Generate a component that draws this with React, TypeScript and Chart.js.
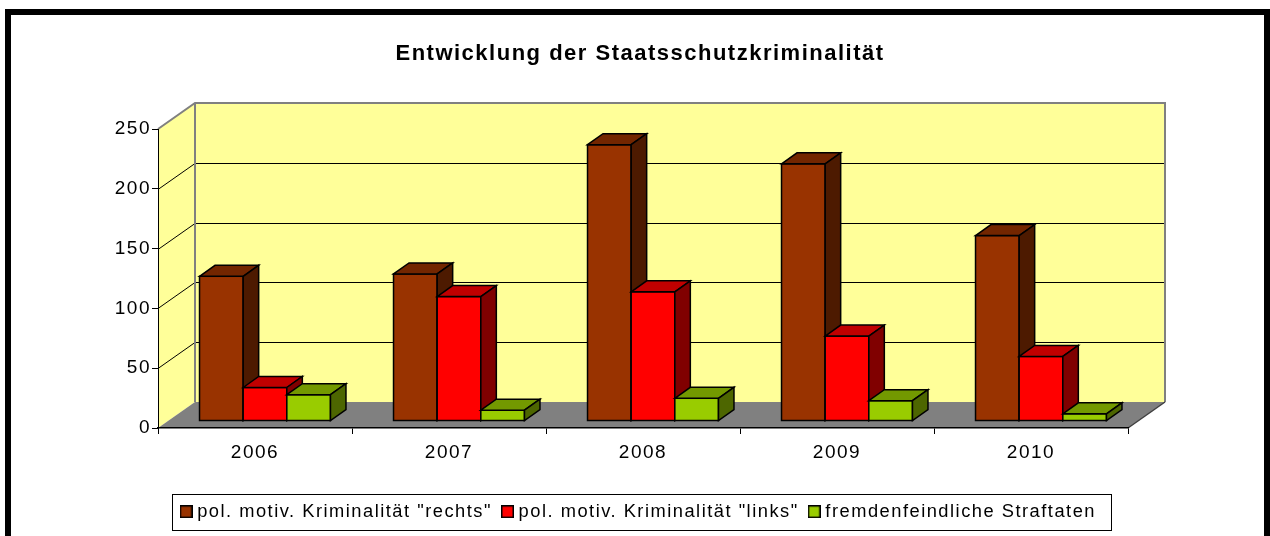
import React, { useEffect, useRef } from "react";
import { Chart, registerables } from "chart.js";

Chart.register(...registerables);

// ---------- data ----------
const chartTitle = "Entwicklung der Staatsschutzkriminalität";
const categories = ["2006", "2007", "2008", "2009", "2010"];
const seriesNames = [
  'pol. motiv. Kriminalität "rechts"',
  'pol. motiv. Kriminalität "links"',
  "fremdenfeindliche Straftaten",
];
const rechts = [121, 123, 231, 215, 155];
const links = [28, 104, 108, 71, 54];
const fremd = [22, 9, 19, 17, 6];
const yTicks = [0, 50, 100, 150, 200, 250];

// ---------- styles ----------
const FONT = "'Liberation Sans', Arial, sans-serif";
const FRONT = ["#993300", "#FF0000", "#99CC00"];
const TOP = ["#732600", "#C00000", "#739900"];
const SIDE = ["#4D1A00", "#800000", "#4D6600"];
const WALL_DX = 37;
const WALL_DY = -26;
const BAR_OFF_X = 10;
const BAR_OFF_Y = -7;
const BAR_DX = 15.5;
const BAR_DY = -11;
const LS = "1.5px";
const LEGEND_BOX = 13;

const spacingPlugin = {
  id: "spacing",
  beforeUpdate(chart: any) {
    chart.ctx.letterSpacing = LS;
  },
  beforeLayout(chart: any) {
    chart.ctx.letterSpacing = LS;
  },
  beforeDraw(chart: any) {
    chart.ctx.letterSpacing = LS;
  },
};

const wallsPlugin = {
  id: "walls",
  beforeDraw(chart: any) {
    const { ctx, chartArea: a, scales } = chart;
    const y = scales.y;
    const yMax = yTicks[yTicks.length - 1];
    const x0 = a.left;
    const x1 = a.right;
    const yb = y.getPixelForValue(yTicks[0]);
    const yt = y.getPixelForValue(yMax);
    ctx.save();
    // back wall
    ctx.fillStyle = "#FFFF99";
    ctx.fillRect(x0 + WALL_DX, yt + WALL_DY, x1 - x0, yb - yt);
    // left wall
    ctx.beginPath();
    ctx.moveTo(x0, yt);
    ctx.lineTo(x0 + WALL_DX, yt + WALL_DY);
    ctx.lineTo(x0 + WALL_DX, yb + WALL_DY);
    ctx.lineTo(x0, yb);
    ctx.closePath();
    ctx.fill();
    // floor
    ctx.fillStyle = "#808080";
    ctx.beginPath();
    ctx.moveTo(x0, yb);
    ctx.lineTo(x1, yb);
    ctx.lineTo(x1 + WALL_DX, yb + WALL_DY);
    ctx.lineTo(x0 + WALL_DX, yb + WALL_DY);
    ctx.closePath();
    ctx.fill();
    // gridlines
    ctx.strokeStyle = "#000";
    ctx.lineWidth = 1;
    for (const v of yTicks) {
      if (v <= yTicks[0] || v >= yMax) continue;
      const py = Math.round(y.getPixelForValue(v)) + 0.5;
      ctx.beginPath();
      ctx.moveTo(x0, py);
      ctx.lineTo(x0 + WALL_DX, py + WALL_DY);
      ctx.lineTo(x1 + WALL_DX, py + WALL_DY);
      ctx.stroke();
    }
    // wall borders
    ctx.strokeStyle = "#808080";
    ctx.lineWidth = 2;
    ctx.beginPath();
    ctx.moveTo(x0, yt);
    ctx.lineTo(x0 + WALL_DX, yt + WALL_DY);
    ctx.lineTo(x1 + WALL_DX, yt + WALL_DY);
    ctx.lineTo(x1 + WALL_DX, yb + WALL_DY);
    ctx.moveTo(x0 + WALL_DX, yt + WALL_DY);
    ctx.lineTo(x0 + WALL_DX, yb + WALL_DY);
    ctx.stroke();
    ctx.strokeStyle = "#404040";
    ctx.lineWidth = 1.5;
    ctx.beginPath();
    ctx.moveTo(x1, yb);
    ctx.lineTo(x1 + WALL_DX, yb + WALL_DY);
    ctx.stroke();
    ctx.restore();
  },
};

const barsPlugin = {
  id: "bars3d",
  beforeDatasetsDraw(chart: any) {
    chart.ctx.save();
    chart.ctx.translate(BAR_OFF_X, BAR_OFF_Y);
  },
  afterDatasetsDraw(chart: any) {
    const ctx = chart.ctx;
    ctx.restore();
    ctx.save();
    ctx.strokeStyle = "#000";
    ctx.lineWidth = 1.5;
    ctx.lineJoin = "miter";
    const n = chart.data.labels.length;
    const nd = chart.data.datasets.length;
    for (let j = 0; j < n; j++) {
      for (let i = 0; i < nd; i++) {
        const el = chart.getDatasetMeta(i).data[j];
        if (!el) continue;
        const { x, y, base, width } = el.getProps(["x", "y", "base", "width"], true);
        const l = x - width / 2 + BAR_OFF_X;
        const r = x + width / 2 + BAR_OFF_X;
        const t = y + BAR_OFF_Y;
        const b = base + BAR_OFF_Y;
        // front
        ctx.fillStyle = FRONT[i];
        ctx.fillRect(l, t, r - l, b - t);
        ctx.strokeRect(l, t, r - l, b - t);
        // top
        ctx.fillStyle = TOP[i];
        ctx.beginPath();
        ctx.moveTo(l, t);
        ctx.lineTo(l + BAR_DX, t + BAR_DY);
        ctx.lineTo(r + BAR_DX, t + BAR_DY);
        ctx.lineTo(r, t);
        ctx.closePath();
        ctx.fill();
        ctx.stroke();
        // side
        ctx.fillStyle = SIDE[i];
        ctx.beginPath();
        ctx.moveTo(r, t);
        ctx.lineTo(r + BAR_DX, t + BAR_DY);
        ctx.lineTo(r + BAR_DX, b + BAR_DY);
        ctx.lineTo(r, b);
        ctx.closePath();
        ctx.fill();
        ctx.stroke();
      }
    }
    ctx.restore();
  },
};

const framePlugin = {
  id: "frame",
  afterDraw(chart: any) {
    const ctx = chart.ctx;
    ctx.save();
    // legend box
    const hb = chart.legend && chart.legend.legendHitBoxes;
    if (hb && hb.length) {
      let minL = Infinity;
      let maxR = -Infinity;
      let cy = 0;
      for (const h of hb) {
        minL = Math.min(minL, h.left);
        maxR = Math.max(maxR, h.left + h.width);
        cy = h.top + h.height / 2;
      }
      const left = Math.round(minL - 12.5) + 0.5;
      const right = Math.round(maxR + 15) + 0.5;
      ctx.strokeStyle = "#000";
      ctx.lineWidth = 1;
      ctx.strokeRect(left, Math.round(cy - 18) + 0.5, right - left, 36);
    }
    // outer frame
    ctx.strokeStyle = "#000";
    ctx.lineWidth = 6;
    ctx.strokeRect(8, 12, 1259, 1000);
    ctx.restore();
  },
};

function makeSwatch(color: string) {
  const c = document.createElement("canvas");
  c.width = LEGEND_BOX;
  c.height = LEGEND_BOX;
  const g = c.getContext("2d") as CanvasRenderingContext2D;
  g.fillStyle = "#000";
  g.fillRect(0, 0, LEGEND_BOX, LEGEND_BOX);
  g.fillStyle = color;
  g.fillRect(1.5, 1.5, LEGEND_BOX - 3, LEGEND_BOX - 3);
  return c;
}

export default function App() {
  const ref = useRef<HTMLCanvasElement>(null);
  useEffect(() => {
    const series = [rechts, links, fremd];
    const chart = new Chart(ref.current as HTMLCanvasElement, {
      type: "bar",
      data: {
        labels: categories,
        datasets: series.map((d, i) => ({
          label: seriesNames[i],
          data: d,
          backgroundColor: FRONT[i],
          borderColor: "#000",
          borderWidth: 1,
          pointStyle: makeSwatch(FRONT[i]),
        })),
      },
      options: {
        animation: false,
        responsive: true,
        maintainAspectRatio: false,
        layout: { padding: { left: 100, right: 90, top: 0, bottom: 11 } },
        datasets: { bar: { categoryPercentage: 0.675, barPercentage: 1 } },
        scales: {
          x: {
            grid: {
              display: true,
              drawOnChartArea: false,
              drawTicks: true,
              tickLength: 6,
              color: "#000",
              offset: true,
            },
            border: { display: true, color: "#000", width: 1.5 },
            ticks: {
              font: { family: FONT, size: 19 },
              color: "#000",
              padding: 7.6,
              maxRotation: 0,
              autoSkip: false,
            },
            afterFit: (s: any) => {
              s.height = 61;
            },
          },
          y: {
            min: yTicks[0],
            max: yTicks[yTicks.length - 1],
            ticks: {
              stepSize: yTicks[1] - yTicks[0],
              font: { family: FONT, size: 19 },
              color: "#000",
              padding: 1,
            },
            grid: { drawOnChartArea: false, tickLength: 6, color: "#000" },
            border: { display: true, color: "#000", width: 1 },
            afterFit: (s: any) => {
              s.width = 58;
            },
          },
          ySpacer: {
            type: "linear",
            position: "right",
            display: true,
            grid: { display: false, drawTicks: false },
            border: { display: false },
            ticks: { display: false },
            afterFit: (s: any) => {
              s.width = 52;
            },
          },
        },
        plugins: {
          title: {
            display: true,
            text: chartTitle,
            font: { family: FONT, size: 22, weight: "bold" },
            color: "#000",
            padding: { top: 41, bottom: 61.6 },
          },
          legend: {
            position: "bottom",
            maxHeight: 36,
            labels: {
              font: { family: FONT, size: 18.3 },
              color: "#000",
              usePointStyle: true,
              pointStyleWidth: 4,
              boxWidth: 4,
              boxHeight: LEGEND_BOX,
              padding: 13.5,
            },
          },
          tooltip: { enabled: false },
        },
      } as any,
      plugins: [spacingPlugin, wallsPlugin, barsPlugin, framePlugin],
    });
    return () => chart.destroy();
  }, []);
  return (
    <div style={{ position: "absolute", left: 0, top: 0, width: 1270, height: 536 }}>
      <canvas ref={ref} />
    </div>
  );
}
